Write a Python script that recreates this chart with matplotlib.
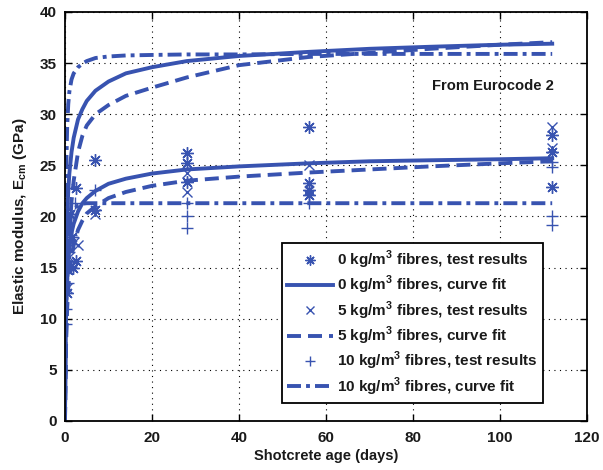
import matplotlib
matplotlib.use("Agg")
import matplotlib.pyplot as plt

plt.rcParams['font.family'] = ['Liberation Sans', 'DejaVu Sans']
plt.rcParams['font.weight'] = 'bold'
plt.rcParams['axes.labelweight'] = 'bold'
plt.rcParams['mathtext.fontset'] = 'custom'
plt.rcParams['mathtext.rm'] = 'Liberation Sans:bold'

BLUE = '#3853b0'
TXT = '#1a1a1a'

# ---- test results (days, GPa) ----
t0_days = [0.4, 0.7, 1.15, 1.5, 1.8, 2.5, 2.5, 7, 7, 28, 28, 28, 56, 56, 56, 56, 112, 112, 112]
t0_vals = [12.5, 14.8, 20.2, 18.0, 15.0, 22.8, 15.6, 25.5, 20.6, 26.2, 25.2, 23.4, 28.8, 23.3, 22.6, 22.1, 28.0, 26.3, 22.9]

t5_days = [0.5, 1.0, 2.0, 3.0, 7, 28, 28, 56, 112, 112]
t5_vals = [13.0, 16.0, 17.5, 17.2, 20.2, 24.3, 22.4, 25.0, 28.8, 26.7]

t10_days = [0.15, 0.3, 0.6, 1.0, 1.4, 2.3, 7, 28, 28, 28, 56, 112, 112, 112, 112]
t10_vals = [9.5, 11.0, 13.5, 16.5, 18.2, 21.3, 22.6, 21.3, 20.0, 18.9, 21.3, 25.3, 24.8, 20.0, 19.2]

# ---- curve fits (days, GPa) ----
fit_days = [0, 0.05, 0.1, 0.2, 0.3, 0.5, 0.75, 1, 1.5, 2, 3, 4, 5, 7, 10, 14, 20, 28, 40, 56, 70, 84, 100, 112]
fit0 = [0, 3.4, 6.2, 9.5, 11.5, 13.9, 15.7, 16.9, 18.4, 19.3, 20.5, 21.3, 21.8, 22.5, 23.2, 23.7, 24.2, 24.6, 24.9, 25.2, 25.4, 25.5, 25.6, 25.7]
fit5 = [0, 1.6, 3.6, 6.5, 8.4, 11.0, 12.9, 14.3, 16.1, 17.2, 18.7, 19.6, 20.3, 21.0, 21.8, 22.4, 23.0, 23.5, 23.9, 24.3, 24.6, 24.9, 25.2, 25.4]
fit10 = [0, 4.0, 7.5, 11.5, 14.0, 16.5, 18.2, 19.2, 20.2, 20.7, 21.1, 21.25, 21.3, 21.3, 21.3, 21.3, 21.3, 21.3, 21.3, 21.3, 21.3, 21.3, 21.3, 21.3]

# ---- Eurocode 2 curves ----
ec0 = [0, 4.8, 8.8, 13.6, 16.4, 19.9, 22.5, 24.2, 26.3, 27.7, 29.5, 30.5, 31.3, 32.3, 33.2, 34.0, 34.6, 35.2, 35.7, 36.1, 36.4, 36.6, 36.8, 36.9]
ec5 = [0, 2.0, 4.0, 7.0, 9.5, 13.0, 16.0, 18.2, 21.5, 23.5, 26.3, 27.9, 28.9, 30.0, 30.9, 31.8, 32.6, 33.6, 34.8, 35.6, 36.0, 36.4, 36.8, 37.05]
ec10 = [0, 8.0, 14.0, 21.0, 25.0, 28.8, 31.0, 32.2, 33.4, 34.0, 34.6, 34.95, 35.2, 35.5, 35.65, 35.75, 35.8, 35.85, 35.85, 35.9, 35.9, 35.9, 35.9, 35.9]

x_ticks = [0, 20, 40, 60, 80, 100, 120]
y_ticks = [0, 5, 10, 15, 20, 25, 30, 35, 40]

fig = plt.figure(figsize=(6.03, 4.70), dpi=100)
ax = fig.add_axes([65/603, 1-421/470, 522/603, 409/470])

lw = 2.8
DASH = (3.6, 1.8)
DASHDOT = (3.6, 1.3, 1.0, 1.3)
asterisk = (8, 2, 0)
lab = 'kg/m$^{\\mathregular{3}}$ fibres'
h1, = ax.plot(t0_days, t0_vals, linestyle='none', marker=asterisk, ms=9, mew=1.0, color=BLUE,
              label='0 ' + lab + ', test results')
h2, = ax.plot(fit_days, fit0, '-', lw=lw, color=BLUE, label='0 ' + lab + ', curve fit')
h3, = ax.plot(t5_days, t5_vals, linestyle='none', marker='x', ms=7, mew=1.0, color=BLUE,
              label='5 ' + lab + ', test results')
h4, = ax.plot(fit_days, fit5, lw=lw, color=BLUE, dashes=DASH, label='5 ' + lab + ', curve fit')
h5, = ax.plot(t10_days, t10_vals, linestyle='none', marker='+', ms=9, mew=1.0, color=BLUE,
              label='10 ' + lab + ', test results')
h6, = ax.plot(fit_days, fit10, lw=lw, color=BLUE, dashes=DASHDOT, label='10 ' + lab + ', curve fit')

ax.plot(fit_days, ec0, '-', lw=lw, color=BLUE)
ax.plot(fit_days, ec5, lw=lw, color=BLUE, dashes=DASH)
ax.plot(fit_days, ec10, lw=lw, color=BLUE, dashes=DASHDOT)

ax.set_xlim(0, 120)
ax.set_ylim(0, 40)
ax.set_xticks(x_ticks)
ax.set_yticks(y_ticks)
ax.tick_params(direction='in', top=True, right=True, length=5, width=1, labelsize=11,
               labelcolor=TXT)
ax.tick_params(axis='x', pad=7)
ax.tick_params(axis='y', pad=6)
for lbl in ax.get_xticklabels() + ax.get_yticklabels():
    lbl.set_fontweight('bold')
ax.grid(True, linestyle=(0, (1, 4)), color='black', linewidth=0.8)
for s in ax.spines.values():
    s.set_linewidth(1.3)

ax.set_xlabel('Shotcrete age (days)', fontsize=10.5, labelpad=3, color=TXT, fontweight='bold')
ax.set_ylabel('Elastic modulus, E$_{\\mathregular{cm}}$ (GPa)', fontsize=11, labelpad=8, color=TXT,
              fontweight='bold')

ax.text(84.4, 32.8, 'From Eurocode 2', fontsize=10.6, va='center', ha='left', color=TXT,
        fontweight='bold')

leg = ax.legend(handles=[h1, h2, h3, h4, h5, h6], loc='lower right', bbox_to_anchor=(0.916, 0.044),
                fontsize=11, frameon=True, fancybox=False, edgecolor='black', framealpha=1,
                handlelength=3.0, handletextpad=0.3, borderpad=0.35, labelspacing=0.2,
                borderaxespad=0, markerscale=0.8)
for t in leg.get_texts():
    t.set_color(TXT)
leg.get_frame().set_linewidth(1.3)

fig.savefig('out.png', dpi=100)
